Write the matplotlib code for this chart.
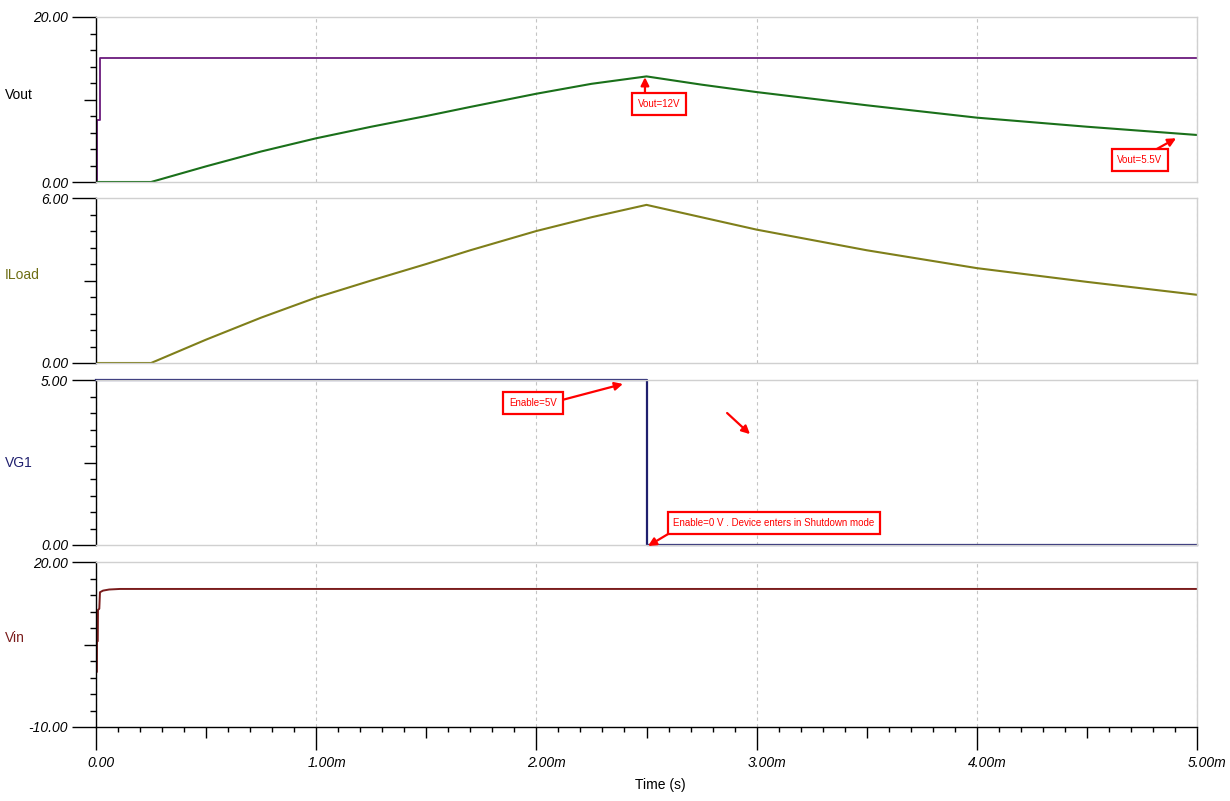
import matplotlib.pyplot as plt
import matplotlib.transforms as mtransforms
import numpy as np

plt.rcParams['font.family'] = ['Liberation Sans', 'DejaVu Sans']

# time in ms
t_vout_in = [0, 0.005, 0.018, 5.0]
vout_in = [0, 7.5, 15.05, 15.05]

t_load = [0, 0.25, 0.5, 0.75, 1.0, 1.25, 1.5, 1.7, 2.0, 2.25, 2.5,
          2.75, 3.0, 3.5, 4.0, 4.5, 5.0]
vout = [0, 0, 1.9, 3.7, 5.3, 6.7, 8.0, 9.1, 10.7, 11.9, 12.8,
        11.8, 10.9, 9.3, 7.8, 6.7, 5.7]
iload = [0, 0, 0.85, 1.65, 2.38, 3.0, 3.6, 4.1, 4.8, 5.3, 5.75,
         5.3, 4.85, 4.1, 3.45, 2.95, 2.48]

t_vg1 = [0, 2.5, 2.5, 5.0]
vg1 = [5, 5, 0, 0]

t_vin = [0, 0.004, 0.0045, 0.008, 0.009, 0.015, 0.018, 0.032, 0.06, 0.109, 5.0]
vin = [0, 0, 5.6, 5.6, 11.3, 11.5, 14.5, 14.8, 15.0, 15.1, 15.1]

x_major = [0, 1, 2, 3, 4, 5]
x_labels = ['0.00', '1.00m', '2.00m', '3.00m', '4.00m', '5.00m']

panels = [
    ('Vout', 0, 20, '0.00', '20.00', 'black'),
    ('ILoad', 0, 6, '0.00', '6.00', '#6e6e14'),
    ('VG1', 0, 5, '0.00', '5.00', '#1f1f6e'),
    ('Vin', -10, 20, '-10.00', '20.00', '#7a1c1c'),
]
tops = [17, 198, 380, 562]
bots = [182, 363, 545, 727]

W, H = 1230, 801
fig = plt.figure(figsize=(12.3, 8.01), dpi=100)
axes = []
for i, (name, lo, hi, lo_lab, hi_lab, col) in enumerate(panels):
    ax = fig.add_axes([96 / W, 1 - bots[i] / H, (1197 - 96) / W, (bots[i] - tops[i]) / H])
    axes.append(ax)
    ax.set_xlim(0, 5)
    ax.set_ylim(lo, hi)
    for s in ['top', 'right', 'bottom']:
        ax.spines[s].set_color('#d0d0d0')
        ax.spines[s].set_linewidth(1.0)
    ax.spines['left'].set_color('black')
    ax.spines['left'].set_linewidth(1.0)
    ax.set_yticks([lo, hi])
    ax.set_yticklabels([lo_lab, hi_lab], fontstyle='italic', fontsize=10)
    ax.set_yticks(np.linspace(lo, hi, 11)[1:-1], minor=True)
    ax.tick_params(axis='y', which='major', length=17, width=1, pad=3, colors='black')
    ax.tick_params(axis='y', which='minor', length=4.3, width=1, colors='black')
    ax.yaxis.get_minor_ticks()[4].tick1line.set_markersize(8.6)
    ax.set_xticks(x_major)
    ax.grid(axis='x', which='major', color='#c4c4c4', ls=(0, (3, 3)), lw=0.8)
    ax.tick_params(axis='x', which='both', labelbottom=False)
    if i < 3:
        ax.tick_params(axis='x', which='both', length=0)
    fig.text(5 / W, 1 - [95, 275, 463, 638][i] / H, name, color=col,
             fontsize=10, ha='left', va='center')

ax0, ax1, ax2, ax3 = axes
ax0.plot(t_vout_in, vout_in, color='#6b1a7d', lw=1.3, drawstyle='steps-post')
ax0.plot(t_load, vout, color='#1a701a', lw=1.5)
ax1.plot(t_load, iload, color='#7f7f1a', lw=1.5)
ax2.plot(t_vg1, vg1, color='#1f1f6e', lw=1.6, clip_on=False)
ax3.plot(t_vin, vin, color='#7a1c1c', lw=1.4)

# bottom x axis
ax3.spines['bottom'].set_color('black')
lab_tr = mtransforms.blended_transform_factory(ax3.transData, ax3.transAxes) + \
    mtransforms.ScaledTranslation(-9 / 100, -36 / 100, fig.dpi_scale_trans)
for xv, lab in zip(x_major, x_labels):
    ax3.text(xv, 0, lab, transform=lab_tr, fontstyle='italic', fontsize=10,
             ha='left', va='center', clip_on=False)
minor = [k / 10 for k in range(51) if k % 10 != 0]
ax3.set_xticks(minor, minor=True)
ax3.tick_params(axis='x', which='major', length=16.5, width=1)
ax3.tick_params(axis='x', which='minor', length=3.6, width=1)
for tk, m in zip(ax3.xaxis.get_minor_ticks(), minor):
    if abs(m * 10 % 10 - 5) < 1e-6:
        tk.tick1line.set_markersize(8)
fig.text(660 / W, 1 - 785 / H, 'Time (s)', fontsize=10, ha='center', va='center')

box = dict(boxstyle='square,pad=0.6', fc='white', ec='red', lw=1.6)
arw = dict(arrowstyle='-|>', color='red', lw=1.6, mutation_scale=12, shrinkA=0, shrinkB=0)
tkw = dict(color='red', fontsize=7, ha='center', va='center', bbox=box, zorder=6)

ax0.text(2.557, 9.45, 'Vout=12V', **tkw)
ax0.annotate('', xy=(2.493, 12.7), xytext=(2.493, 10.3), arrowprops=arw, zorder=5)
ax0.text(4.741, 2.67, 'Vout=5.5V', **tkw)
ax0.annotate('', xy=(4.905, 5.3), xytext=(4.77, 3.3), arrowprops=arw, zorder=5)

ax2.text(1.985, 4.30, 'Enable=5V', **tkw)
ax2.annotate('', xy=(2.393, 4.88), xytext=(2.08, 4.33), arrowprops=arw,
             annotation_clip=False, zorder=5)
ax2.annotate('', xy=(2.97, 3.36), xytext=(2.866, 4.0), arrowprops=arw, zorder=5)
ax2.text(3.079, 0.667, 'Enable=0 V . Device enters in Shutdown mode', **tkw)
ax2.annotate('', xy=(2.507, -0.03), xytext=(2.64, 0.5), arrowprops=arw,
             annotation_clip=False, zorder=5)

fig.savefig('out.png', dpi=100)
